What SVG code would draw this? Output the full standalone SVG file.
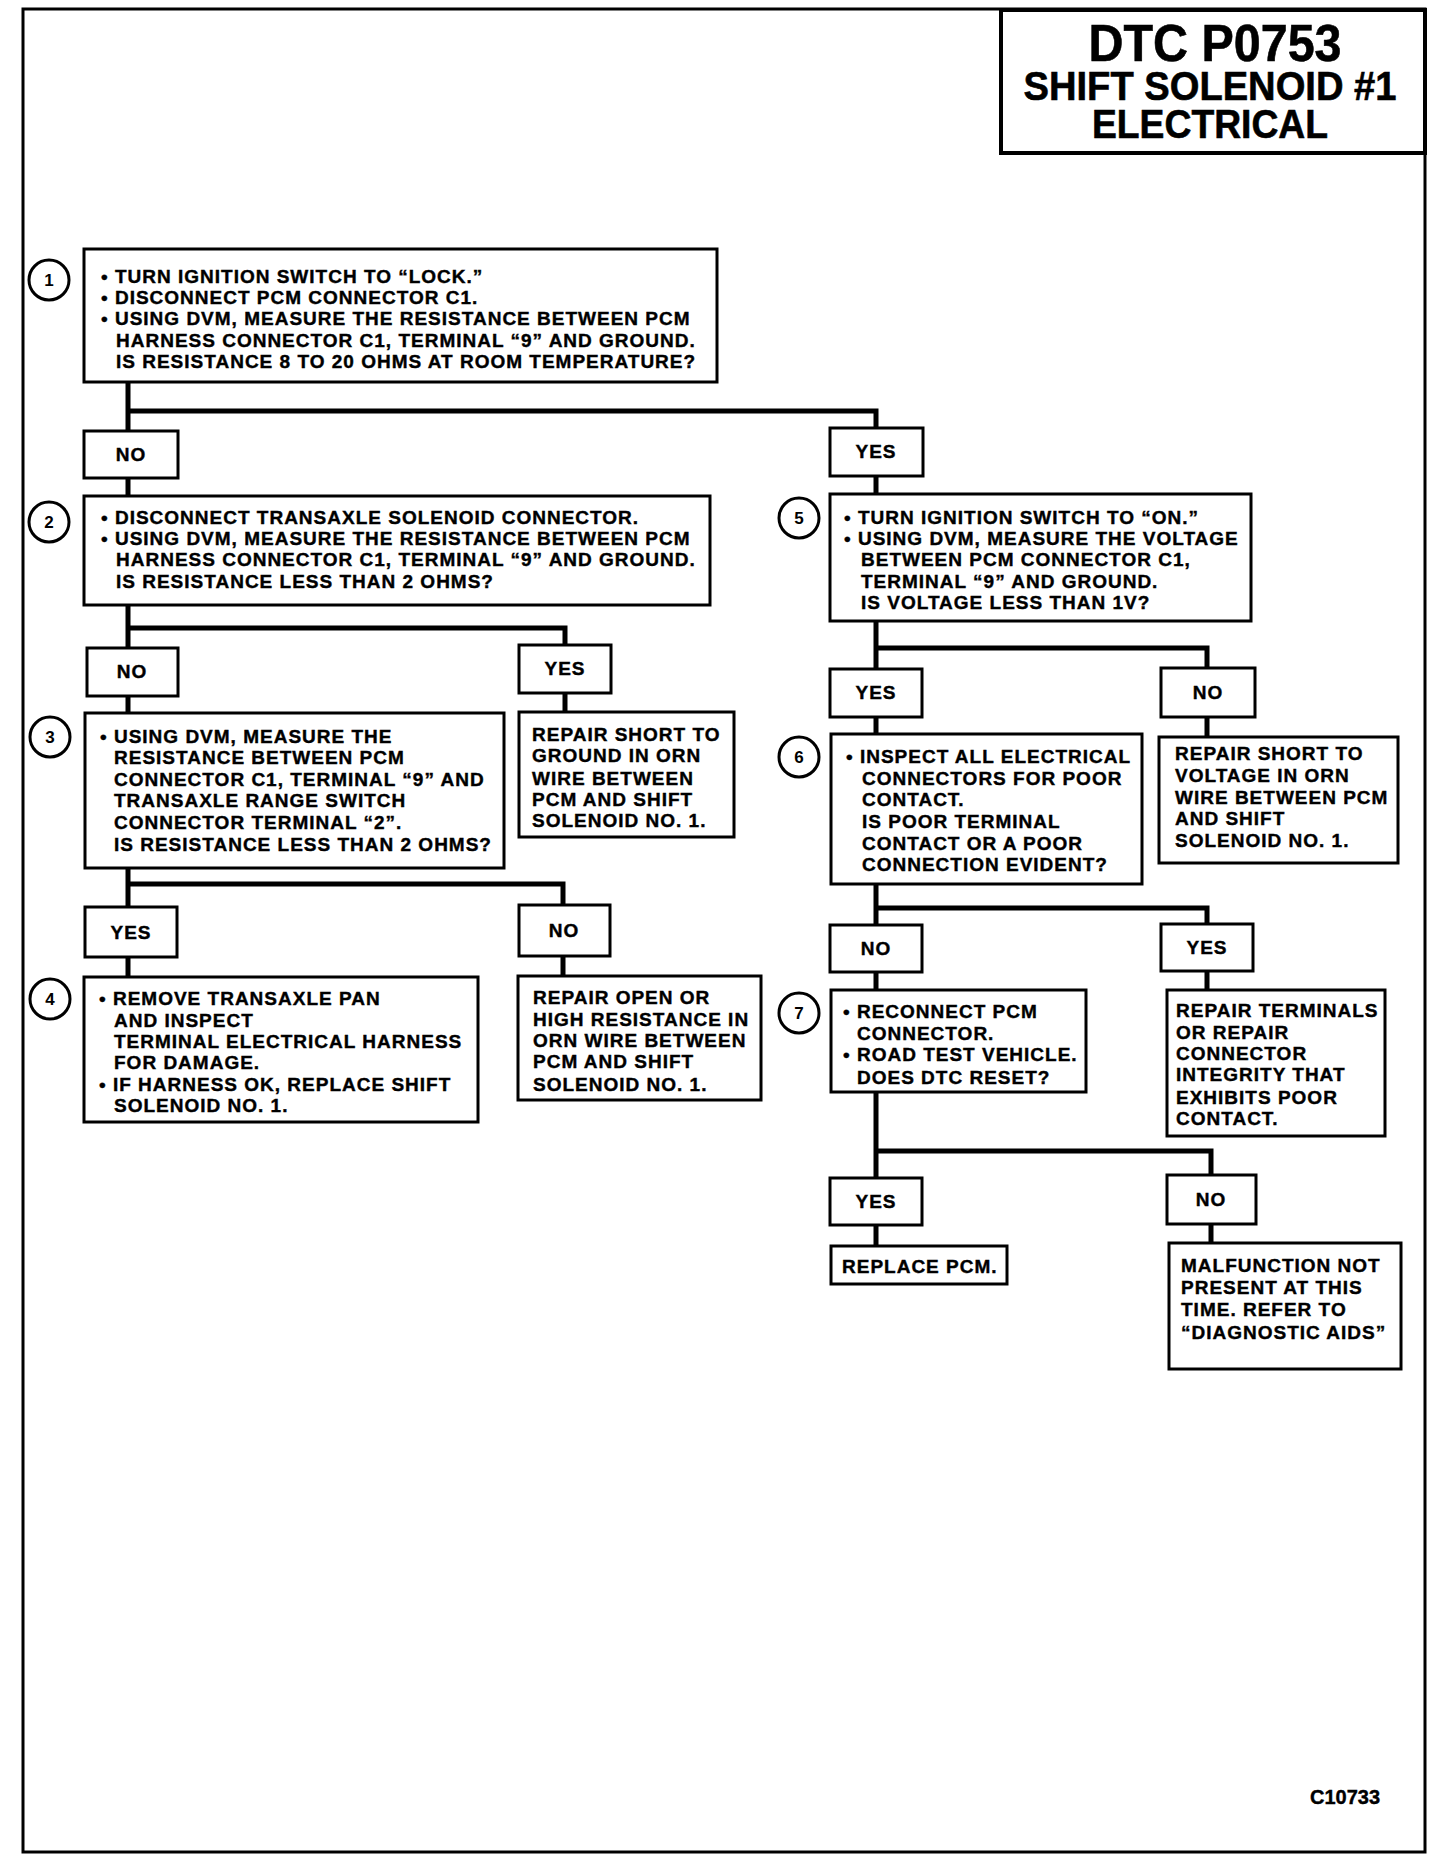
<svg xmlns="http://www.w3.org/2000/svg" width="1440" height="1866" viewBox="0 0 1440 1866">
<style>
.frame{fill:none;stroke:#000;stroke-width:3}
.box{fill:#fff;stroke:#000;stroke-width:3}
.tbox{fill:#fff;stroke:#000;stroke-width:4}
.circ{fill:#fff;stroke:#000;stroke-width:3}
.conn{fill:none;stroke:#000;stroke-width:5;stroke-linecap:square}
text{font-family:"Liberation Sans",Arial,Helvetica,sans-serif;font-weight:bold;fill:#000}
.t{font-size:19px;letter-spacing:1px;stroke:#000;stroke-width:0.4}
.lbl{font-size:19px;letter-spacing:1px;text-anchor:middle;stroke:#000;stroke-width:0.4}
.num{font-size:17px;text-anchor:middle}
.title{text-anchor:middle;stroke:#000;stroke-width:0.6}
</style>
<rect class="frame" x="23" y="9" width="1402" height="1843"/>
<g id="connectors">
<path class="conn" d="M128,382 V411 H876 V428 M128,411 V431 M128,478 V496 M876,476 V494"/>
<path class="conn" d="M128,605 V628 H565 V645 M128,628 V648 M128,696 V713 M565,693 V712"/>
<path class="conn" d="M128,868 V884 H563 V905 M128,884 V907 M128,957 V977 M563,956 V976"/>
<path class="conn" d="M876,621 V648 H1207 V668 M876,648 V669 M876,717 V734 M1207,717 V737"/>
<path class="conn" d="M876,884 V908 H1207 V924 M876,908 V925 M876,972 V990 M1207,971 V990"/>
<path class="conn" d="M876,1092 V1151 H1211 V1175 M876,1151 V1178 M876,1225 V1246 M1211,1224 V1243"/>
</g>
<g id="title">
<rect class="tbox" x="1001" y="10" width="424" height="143"/>
<text class="title" x="1215" y="61" font-size="52" textLength="253" lengthAdjust="spacingAndGlyphs">DTC P0753</text>
<text class="title" x="1210" y="100" font-size="40" textLength="373" lengthAdjust="spacingAndGlyphs">SHIFT SOLENOID #1</text>
<text class="title" x="1210" y="138" font-size="40" textLength="236" lengthAdjust="spacingAndGlyphs">ELECTRICAL</text>
</g>
<g id="step1">
<circle class="circ" cx="49" cy="280" r="20"/>
<text class="num" x="49" y="286">1</text>
<rect class="box" x="84" y="249" width="633" height="133"/>
<text class="t" x="101" y="283">• TURN IGNITION SWITCH TO “LOCK.”</text>
<text class="t" x="101" y="304">• DISCONNECT PCM CONNECTOR C1.</text>
<text class="t" x="101" y="325">• USING DVM, MEASURE THE RESISTANCE BETWEEN PCM</text>
<text class="t" x="116" y="347">HARNESS CONNECTOR C1, TERMINAL “9” AND GROUND.</text>
<text class="t" x="116" y="368">IS RESISTANCE 8 TO 20 OHMS AT ROOM TEMPERATURE?</text>
</g>
<g id="no1"><rect class="box" x="84" y="431" width="94" height="47"/><text class="lbl" x="131" y="461">NO</text></g>
<g id="yes1"><rect class="box" x="830" y="428" width="93" height="48"/><text class="lbl" x="876" y="458">YES</text></g>
<g id="step2">
<circle class="circ" cx="49" cy="522" r="20"/>
<text class="num" x="49" y="528">2</text>
<rect class="box" x="84" y="496" width="626" height="109"/>
<text class="t" x="101" y="524">• DISCONNECT TRANSAXLE SOLENOID CONNECTOR.</text>
<text class="t" x="101" y="545">• USING DVM, MEASURE THE RESISTANCE BETWEEN PCM</text>
<text class="t" x="116" y="566">HARNESS CONNECTOR C1, TERMINAL “9” AND GROUND.</text>
<text class="t" x="116" y="588">IS RESISTANCE LESS THAN 2 OHMS?</text>
</g>
<g id="no2"><rect class="box" x="87" y="648" width="91" height="48"/><text class="lbl" x="132" y="678">NO</text></g>
<g id="yes2"><rect class="box" x="519" y="645" width="92" height="48"/><text class="lbl" x="565" y="675">YES</text></g>
<g id="step3">
<circle class="circ" cx="50" cy="737" r="20"/>
<text class="num" x="50" y="743">3</text>
<rect class="box" x="85" y="713" width="419" height="155"/>
<text class="t" x="100" y="743">• USING DVM, MEASURE THE</text>
<text class="t" x="114" y="764">RESISTANCE BETWEEN PCM</text>
<text class="t" x="114" y="786">CONNECTOR C1, TERMINAL “9” AND</text>
<text class="t" x="114" y="807">TRANSAXLE RANGE SWITCH</text>
<text class="t" x="114" y="829">CONNECTOR TERMINAL “2”.</text>
<text class="t" x="114" y="851">IS RESISTANCE LESS THAN 2 OHMS?</text>
</g>
<g id="repair-ground">
<rect class="box" x="519" y="712" width="215" height="125"/>
<text class="t" x="532" y="741">REPAIR SHORT TO</text>
<text class="t" x="532" y="762">GROUND IN ORN</text>
<text class="t" x="532" y="785">WIRE BETWEEN</text>
<text class="t" x="532" y="806">PCM AND SHIFT</text>
<text class="t" x="532" y="827">SOLENOID NO. 1.</text>
</g>
<g id="yes3"><rect class="box" x="85" y="907" width="92" height="50"/><text class="lbl" x="131" y="939">YES</text></g>
<g id="no3"><rect class="box" x="519" y="905" width="91" height="51"/><text class="lbl" x="564" y="937">NO</text></g>
<g id="step4">
<circle class="circ" cx="50" cy="999" r="20"/>
<text class="num" x="50" y="1005">4</text>
<rect class="box" x="84" y="977" width="394" height="145"/>
<text class="t" x="99" y="1005">• REMOVE TRANSAXLE PAN</text>
<text class="t" x="114" y="1027">AND INSPECT</text>
<text class="t" x="114" y="1048">TERMINAL ELECTRICAL HARNESS</text>
<text class="t" x="114" y="1069">FOR DAMAGE.</text>
<text class="t" x="99" y="1091">• IF HARNESS OK, REPLACE SHIFT</text>
<text class="t" x="114" y="1112">SOLENOID NO. 1.</text>
</g>
<g id="repair-open">
<rect class="box" x="518" y="976" width="243" height="124"/>
<text class="t" x="533" y="1004">REPAIR OPEN OR</text>
<text class="t" x="533" y="1026">HIGH RESISTANCE IN</text>
<text class="t" x="533" y="1047">ORN WIRE BETWEEN</text>
<text class="t" x="533" y="1068">PCM AND SHIFT</text>
<text class="t" x="533" y="1091">SOLENOID NO. 1.</text>
</g>
<g id="step5">
<circle class="circ" cx="799" cy="518" r="20"/>
<text class="num" x="799" y="524">5</text>
<rect class="box" x="830" y="494" width="421" height="127"/>
<text class="t" x="844" y="524">• TURN IGNITION SWITCH TO “ON.”</text>
<text class="t" x="844" y="545">• USING DVM, MEASURE THE VOLTAGE</text>
<text class="t" x="861" y="566">BETWEEN PCM CONNECTOR C1,</text>
<text class="t" x="861" y="588">TERMINAL “9” AND GROUND.</text>
<text class="t" x="861" y="609">IS VOLTAGE LESS THAN 1V?</text>
</g>
<g id="yes5"><rect class="box" x="830" y="669" width="92" height="48"/><text class="lbl" x="876" y="699">YES</text></g>
<g id="no5"><rect class="box" x="1161" y="668" width="94" height="49"/><text class="lbl" x="1208" y="699">NO</text></g>
<g id="step6">
<circle class="circ" cx="799" cy="757" r="20"/>
<text class="num" x="799" y="763">6</text>
<rect class="box" x="831" y="734" width="311" height="150"/>
<text class="t" x="846" y="763">• INSPECT ALL ELECTRICAL</text>
<text class="t" x="862" y="785">CONNECTORS FOR POOR</text>
<text class="t" x="862" y="806">CONTACT.</text>
<text class="t" x="862" y="828">IS POOR TERMINAL</text>
<text class="t" x="862" y="850">CONTACT OR A POOR</text>
<text class="t" x="862" y="871">CONNECTION EVIDENT?</text>
</g>
<g id="repair-voltage">
<rect class="box" x="1159" y="737" width="239" height="126"/>
<text class="t" x="1175" y="760">REPAIR SHORT TO</text>
<text class="t" x="1175" y="782">VOLTAGE IN ORN</text>
<text class="t" x="1175" y="804">WIRE BETWEEN PCM</text>
<text class="t" x="1175" y="825">AND SHIFT</text>
<text class="t" x="1175" y="847">SOLENOID NO. 1.</text>
</g>
<g id="no6"><rect class="box" x="830" y="925" width="92" height="47"/><text class="lbl" x="876" y="955">NO</text></g>
<g id="yes6"><rect class="box" x="1161" y="924" width="92" height="47"/><text class="lbl" x="1207" y="954">YES</text></g>
<g id="step7">
<circle class="circ" cx="799" cy="1013" r="20"/>
<text class="num" x="799" y="1019">7</text>
<rect class="box" x="831" y="990" width="255" height="102"/>
<text class="t" x="843" y="1018">• RECONNECT PCM</text>
<text class="t" x="857" y="1040">CONNECTOR.</text>
<text class="t" x="843" y="1061">• ROAD TEST VEHICLE.</text>
<text class="t" x="857" y="1084">DOES DTC RESET?</text>
</g>
<g id="repair-terminals">
<rect class="box" x="1167" y="990" width="218" height="146"/>
<text class="t" x="1176" y="1017">REPAIR TERMINALS</text>
<text class="t" x="1176" y="1039">OR REPAIR</text>
<text class="t" x="1176" y="1060">CONNECTOR</text>
<text class="t" x="1176" y="1081">INTEGRITY THAT</text>
<text class="t" x="1176" y="1104">EXHIBITS POOR</text>
<text class="t" x="1176" y="1125">CONTACT.</text>
</g>
<g id="yes7"><rect class="box" x="830" y="1178" width="92" height="47"/><text class="lbl" x="876" y="1208">YES</text></g>
<g id="no7"><rect class="box" x="1167" y="1175" width="89" height="49"/><text class="lbl" x="1211" y="1206">NO</text></g>
<g id="replace-pcm">
<rect class="box" x="831" y="1246" width="176" height="38"/>
<text class="t" x="842" y="1273">REPLACE PCM.</text>
</g>
<g id="malfunction">
<rect class="box" x="1169" y="1243" width="232" height="126"/>
<text class="t" x="1181" y="1272">MALFUNCTION NOT</text>
<text class="t" x="1181" y="1294">PRESENT AT THIS</text>
<text class="t" x="1181" y="1316">TIME. REFER TO</text>
<text class="t" x="1181" y="1339">“DIAGNOSTIC AIDS”</text>
</g>
<text x="1345" y="1804" font-size="20" text-anchor="middle" stroke="#000" stroke-width="0.4">C10733</text>
</svg>
